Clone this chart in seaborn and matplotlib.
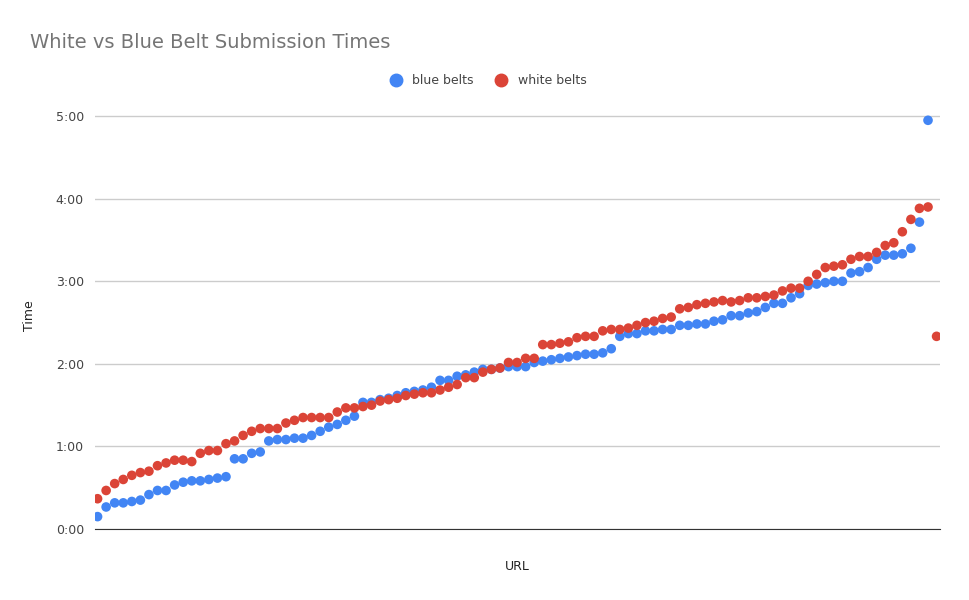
import matplotlib
matplotlib.use("Agg")
import matplotlib.pyplot as plt
import seaborn as sns
import pandas as pd
from matplotlib.ticker import FuncFormatter, FixedLocator

# times in seconds
blue_belts = [9, 16, 19, 19, 20, 21, 25, 28, 28, 32, 34, 35, 35, 36, 37, 38, 51, 51, 55, 56,
              64, 65, 65, 66, 66, 68, 71, 74, 76, 79, 82, 92, 92, 94, 95, 97, 99, 100, 101, 103,
              108, 108, 111, 112, 114, 116, 116, 117, 118, 118, 118, 121, 122, 123, 124, 125, 126, 127, 127, 128,
              131, 140, 142, 142, 144, 144, 145, 145, 148, 148, 149, 149, 151,
              152, 155, 155, 157, 158, 161, 164, 164, 168, 171, 177, 178, 179, 180, 180, 186, 187, 190,
              196, 199, 199, 200, 204, 223, 297]
white_belts = [22, 28, 33, 36, 39, 41, 42, 46, 48, 50, 50, 49, 55, 57, 57, 62, 64, 68, 71, 73,
               73, 73, 77, 79, 81, 81,
               81, 81, 85, 88, 88, 89, 90, 93, 94, 95, 97, 98, 99, 99, 101, 103, 105, 110, 110, 114,
               116, 117, 121, 121, 124,
               124, 134, 134, 135, 136, 139, 140, 140, 144, 145, 145, 146, 148, 150, 151, 153, 154,
               160, 161, 163, 164, 165,
               166, 165, 166, 168, 168, 169, 170, 173, 175, 175, 180, 185, 190, 191, 192, 196, 198,
               198, 201, 206, 208, 216, 225, 233, 234, 140]
series_names = ["blue belts", "white belts"]
y_ticks = [0, 60, 120, 180, 240, 300]

rows = []
for i, v in enumerate(blue_belts):
    rows.append({"URL": i, "Time": v, "belt": series_names[0]})
for i, v in enumerate(white_belts):
    rows.append({"URL": i, "Time": v, "belt": series_names[1]})
df = pd.DataFrame(rows)

fig = plt.figure(figsize=(9.7, 6), dpi=100)
ax = fig.add_axes([95/970, 1-529/600, 845/970, 0.711])
sns.scatterplot(data=df, x="URL", y="Time", hue="belt", hue_order=series_names,
                palette=["#4285F4", "#DB4437"], s=48, linewidth=0, ax=ax, legend=False)

ax.set_ylim(0, 310)
ax.set_xlim(-0.3, len(white_belts) - 0.6)
ax.yaxis.set_major_locator(FixedLocator(y_ticks))
ax.yaxis.set_major_formatter(FuncFormatter(lambda v, p: f"{int(v)//60}:{int(v)%60:02d}"))
ax.set_xticks([])
ax.grid(axis="y", color="#cccccc", linewidth=1)
ax.set_axisbelow(True)
for s in ["top", "right", "left"]:
    ax.spines[s].set_visible(False)
ax.spines["bottom"].set_color("#333333")
ax.tick_params(axis="y", length=0, labelsize=9, labelcolor="#444444", pad=8)
ax.set_xlabel("URL", fontsize=9, color="#222222", labelpad=22)
ax.set_ylabel("Time", fontsize=9, color="#222222", labelpad=14)

fig.text(30/970, 1-42/600, "White vs Blue Belt Submission Times", fontsize=14,
         color="#757575", va="center")
from matplotlib.lines import Line2D
handles = [Line2D([], [], marker="o", linestyle="", color=c, markersize=9)
           for c in ["#4285F4", "#DB4437"]]
fig.legend(handles, series_names, loc="center", bbox_to_anchor=(0.5, 1-81/600),
           ncol=2, frameon=False, fontsize=9, handletextpad=0.3, columnspacing=1.2,
           labelcolor="#444444")

fig.savefig("out.png", dpi=100)
